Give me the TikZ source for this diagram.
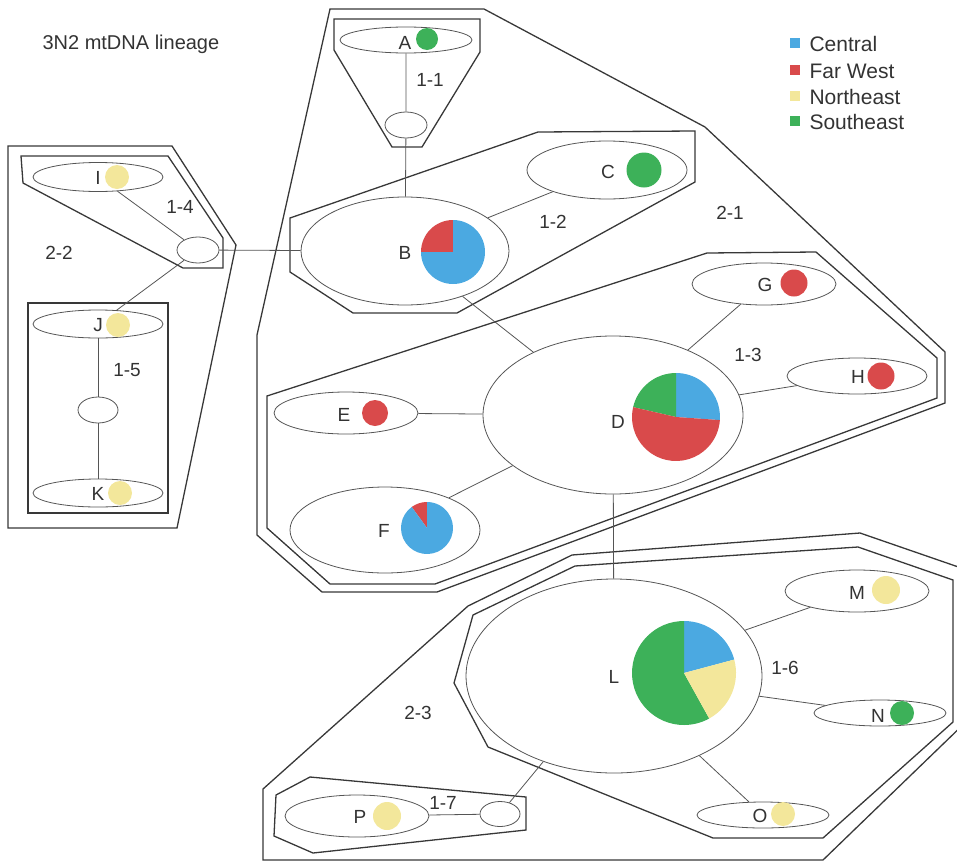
\documentclass[tikz,border=0pt]{standalone}
\usepackage{fontspec}
\setmainfont{Liberation Sans}
\usepackage{xcolor}
\usetikzlibrary{shapes.geometric}

\definecolor{central}{HTML}{4BA9E1}
\definecolor{farwest}{HTML}{D94A4B}
\definecolor{northeast}{HTML}{F3E79B}
\definecolor{southeast}{HTML}{3DB159}
\definecolor{txt}{HTML}{333333}
\definecolor{edge}{HTML}{555555}
\definecolor{grpline}{HTML}{383838}

% one wedge of a pie: centre, from angle, to angle, radius, colour
\newcommand{\pieslice}[5]{%
  \fill[#5] (#1) -- ++({-(#2)}:#4) arc[start angle={-(#2)}, end angle={-(#3)}, radius=#4] -- cycle;}

\begin{document}
\begin{tikzpicture}[
    x=1pt, y=-1pt,
    every node/.style={font=\fontsize{19}{22}\selectfont, text=txt},
    hap/.style={draw=edge, line width=0.8pt, ellipse, inner sep=0pt},
    mv/.style={hap, minimum width=42, minimum height=26},
    grp/.style={draw=grpline, line width=1.3pt},
    link/.style={draw=edge, line width=0.8pt},
    key/.style={minimum size=10, inner sep=0pt}
]
\useasboundingbox (0,0) rectangle (957,862);
\clip (0,0) rectangle (957,862);

% nested clades
\draw[grp] (330,9) -- (484,9) -- (705,127) -- (945,352) -- (945,403) -- (437,592) -- (322,592) -- (257,535) -- (257,335) -- cycle;
\draw[grp] (334,19) -- (480,19) -- (480,52) -- (422,147) -- (392,147) -- (334,50) -- cycle;
\draw[grp] (290,218) -- (538,132) -- (695,131) -- (695,182) -- (457,313) -- (353,313) -- (290,272) -- cycle;
\draw[grp] (267,396) -- (707,253) -- (816,252) -- (937,358) -- (937,398) -- (435,584) -- (330,584) -- (267,528) -- cycle;
\draw[grp] (8,146) -- (172,146) -- (236,245) -- (177,528) -- (8,528) -- cycle;
\draw[grp] (21,156) -- (168,156) -- (223,238) -- (223,268) -- (183,268) -- (23,183) -- cycle;
\draw[grp] (28,303) rectangle (168,513);
\draw[grp] (263,860) -- (263,789) -- (468,606) -- (572,555) -- (860,533) -- (970,571) -- (970,718) -- (823,860) -- cycle;
\draw[grp] (575,566) -- (858,547) -- (953,580) -- (953,722) -- (823,838) -- (713,838) -- (488,747) -- (454,683) -- (473,615) -- cycle;
\draw[grp] (310,777) -- (526,797) -- (526,830) -- (313,853) -- (274,836) -- (276,795) -- cycle;

% haplotypes
\node[hap, minimum width=132, minimum height=26] (A) at (406,40) {};
\node[hap, minimum width=208, minimum height=108] (B) at (405,251) {};
\node[hap, minimum width=160, minimum height=58] (C) at (607,170) {};
\node[hap, minimum width=260, minimum height=158] (D) at (613,415) {};
\node[hap, minimum width=144, minimum height=42] (E) at (346,413) {};
\node[hap, minimum width=190, minimum height=86] (F) at (385,530) {};
\node[hap, minimum width=144, minimum height=42] (G) at (764,284) {};
\node[hap, minimum width=140, minimum height=36] (H) at (857,376) {};
\node[hap, minimum width=130, minimum height=29] (I) at (98,177) {};
\node[hap, minimum width=130, minimum height=28] (J) at (98,324) {};
\node[hap, minimum width=130, minimum height=28] (K) at (98,493) {};
\node[hap, minimum width=296, minimum height=194] (L) at (614,676) {};
\node[hap, minimum width=144, minimum height=42] (M) at (857,591) {};
\node[hap, minimum width=132, minimum height=26] (N) at (880,713) {};
\node[hap, minimum width=132, minimum height=26] (O) at (763,815) {};
\node[hap, minimum width=144, minimum height=42] (P) at (357,816) {};

% missing intermediates
\node[mv] (mv1) at (406,125) {};
\node[mv] (mv4) at (198,250) {};
\node[mv, minimum width=40] (mv5) at (98,410) {};
\node[mv, minimum width=40, minimum height=25] (mv7) at (500,814) {};

% network
\draw[link] (A) -- (mv1) -- (B);
\draw[link] (C) -- (B);
\draw[link] (I) -- (mv4) -- (J);
\draw[link] (mv4) -- (B);
\draw[link] (J) -- (mv5) -- (K);
\draw[link] (B) -- (D);
\draw[link] (E) -- (D);
\draw[link] (F) -- (D);
\draw[link] (G) -- (D);
\draw[link] (H) -- (D);
\draw[link] (D) -- (L);
\draw[link] (M) -- (L);
\draw[link] (N) -- (L);
\draw[link] (O) -- (L);
\draw[link] (P) -- (mv7) -- (L);

% frequencies
\fill[southeast] (427,39) circle[radius=11];
\pieslice{453,252}{90}{180}{32}{farwest}
\pieslice{453,252}{180}{450}{32}{central}
\fill[southeast] (644,170) circle[radius=17.5];
\pieslice{676,417}{-4}{90}{44}{central}
\pieslice{676,417}{90}{167}{44}{southeast}
\pieslice{676,417}{167}{356}{44}{farwest}
\fill[farwest] (375,413) circle[radius=13];
\pieslice{427,528}{90}{126}{26}{farwest}
\pieslice{427,528}{126}{450}{26}{central}
\fill[farwest] (794,283) circle[radius=13.5];
\fill[farwest] (881,376) circle[radius=13.5];
\fill[northeast] (117,177) circle[radius=12];
\fill[northeast] (118,325) circle[radius=12];
\fill[northeast] (120,493) circle[radius=12];
\pieslice{684,673}{15}{90}{52}{central}
\pieslice{684,673}{90}{299}{52}{southeast}
\pieslice{684,673}{299}{375}{52}{northeast}
\fill[northeast] (886,590) circle[radius=14];
\fill[southeast] (902,713) circle[radius=12];
\fill[northeast] (783,814) circle[radius=12];
\fill[northeast] (387,816) circle[radius=14];

% haplotype names
\node (tA) at (405,43) {A};
\node (tB) at (405,253) {B};
\node (tC) at (608,172) {C};
\node (tD) at (618,422) {D};
\node (tE) at (344,415) {E};
\node (tF) at (384,531) {F};
\node (tG) at (765,285) {G};
\node (tH) at (858,377) {H};
\node (tI) at (98,178) {I};
\node (tJ) at (98,325) {J};
\node (tK) at (98,494) {K};
\node (tL) at (614,677) {L};
\node (tM) at (857,593) {M};
\node (tN) at (878,716) {N};
\node (tO) at (760,816) {O};
\node (tP) at (360,817) {P};

% clade names
\node (c11) at (430,80) {1-1};
\node (c12) at (553,222) {1-2};
\node (c13) at (748,355) {1-3};
\node (c14) at (180,207) {1-4};
\node (c15) at (127,370) {1-5};
\node (c16) at (785,668) {1-6};
\node (c17) at (443,803) {1-7};
\node (c21) at (730,213) {2-1};
\node (c22) at (59,253) {2-2};
\node (c23) at (418,713) {2-3};

\node[anchor=west, font=\fontsize{20}{24}\selectfont] (title) at (39,44) {3N2 mtDNA lineage};

% legend
\node[key, fill=central] (k1) at (795,43) {};
\node[key, fill=farwest] (k2) at (795,70) {};
\node[key, fill=northeast] (k3) at (795,96) {};
\node[key, fill=southeast] (k4) at (795,121) {};
\begin{scope}[every node/.append style={anchor=west, font=\fontsize{21}{24}\selectfont}]
\node (l1) at (806,44) {Central};
\node (l2) at (806,71) {Far West};
\node (l3) at (806,97) {Northeast};
\node (l4) at (806,122) {Southeast};
\end{scope}
\end{tikzpicture}
\end{document}
